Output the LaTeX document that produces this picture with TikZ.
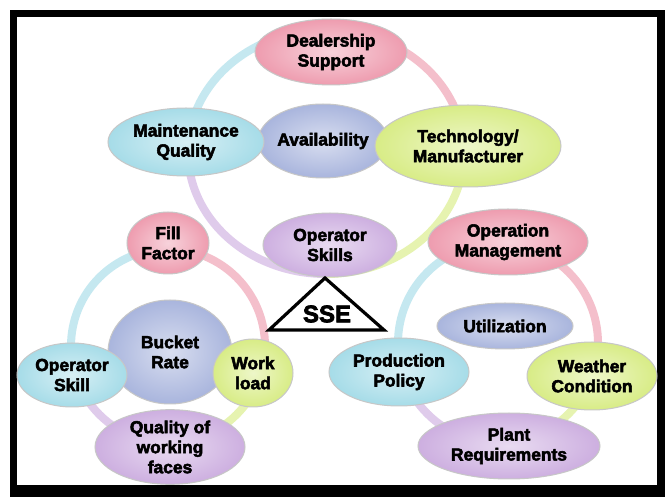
\documentclass[tikz,border=0pt]{standalone}
\usepackage{fontspec}
\setmainfont{Liberation Sans}
\newfontfamily\heavyfont{Liberation Sans Bold}[FakeBold=3]
\usetikzlibrary{shapes.geometric}
\definecolor{ssPink}{HTML}{EE9CAF}
\definecolor{ssCyan}{HTML}{A6DCE8}
\definecolor{ssBlue}{HTML}{A9B5DD}
\definecolor{ssLime}{HTML}{D8EC86}
\definecolor{ssLilac}{HTML}{CDAFE0}
\tikzset{
  bubble/.style ={ellipse,draw=black!22,line width=0.5pt,inner sep=0pt,align=center,
                  font=\fontsize{8.7}{10}\selectfont\heavyfont,text=black},
  pinkb/.style  ={bubble,inner color=ssPink!45!white,outer color=ssPink},
  cyanb/.style  ={bubble,inner color=ssCyan!45!white,outer color=ssCyan},
  blueb/.style  ={bubble,inner color=ssBlue!45!white,outer color=ssBlue},
  limeb/.style  ={bubble,inner color=ssLime!45!white,outer color=ssLime},
  lilacb/.style ={bubble,inner color=ssLilac!45!white,outer color=ssLilac},
  ring/.style   ={line width=4pt},
}
\begin{document}
\begin{tikzpicture}[x=0.5pt,y=-0.5pt]
\useasboundingbox (0,0) rectangle (665,497);
% frame
\fill[black] (10,10) rectangle (665,497);
\fill[white] (17,17) rectangle (657,485);

% the three rings, one colour per quarter
\coordinate (ringT) at (326,152);
\coordinate (ringL) at (168,346);
\coordinate (ringR) at (498,343);
\foreach \rg/\rx/\ry in {ringT/138/122, ringL/97/97, ringR/100/100}
  \foreach \col/\a in {ssCyan/180, ssPink/270, ssLime/0, ssLilac/90}
    \draw[ring,\col!65!white] (\rg) ++({\rx*cos(\a)},{\ry*sin(\a)})
      arc[start angle=\a,delta angle=90,x radius=\rx,y radius=\ry];

% bubbles: name / x / y / half width / half height / style / text
\foreach \nm/\x/\y/\w/\h/\sty/\txt in {
  avail/323/141/65/37/blueb/{Availability},
  deal/331/52/76/33/pinkb/{Dealership\\Support},
  maint/186/142/78/34/cyanb/{Maintenance\\Quality},
  tech/468/146/93/41/limeb/{Technology/\\Manufacturer},
  opskills/330/245/67/32/lilacb/{Operator\\Skills},
  bucket/170/352/62/52/blueb/{Bucket\\Rate},
  fill/168/243/41/31/pinkb/{Fill\\Factor},
  opskill/72/375/55/32/cyanb/{Operator\\Skill},
  work/253/373/40/34/limeb/{Work\\load},
  quality/170/447/75/34/lilacb/{Quality of\\working\\faces},
  opmgmt/508/242/80/33/pinkb/{Operation\\Management},
  util/505/326/68/23/blueb/{Utilization},
  prod/399/372/70/34/cyanb/{Production\\Policy},
  weather/592/376/65/34/limeb/{Weather\\Condition},
  plant/509/446/91/33/lilacb/{Plant\\Requirements}}
  \node[\sty,minimum width=\w pt,minimum height=\h pt] (\nm) at (\x,\y) {\txt};

% SSE marker
\node[font=\fontsize{12}{14}\selectfont\heavyfont] (sse) at (327,314) {SSE};
\draw[line width=1.6pt] (325,278) -- (384,330) -- (269,330) -- cycle;
\end{tikzpicture}
\end{document}
